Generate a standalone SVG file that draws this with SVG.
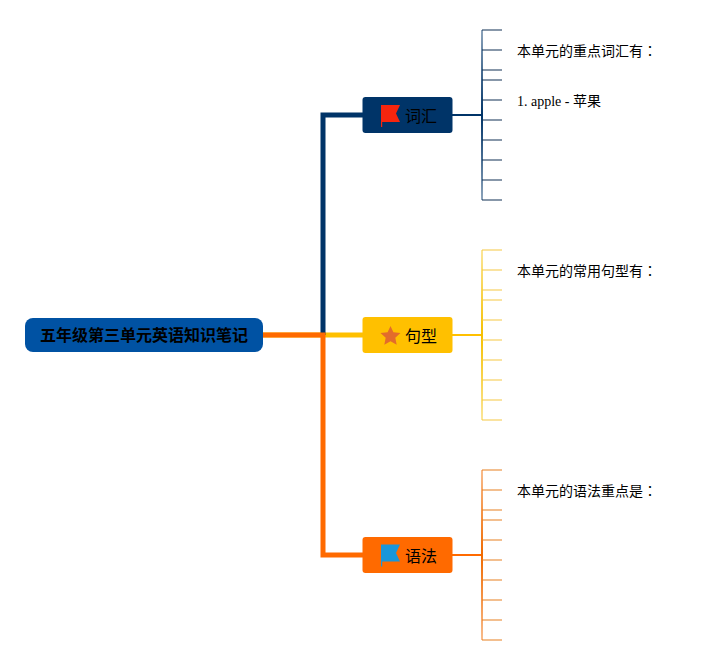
<svg xmlns="http://www.w3.org/2000/svg" width="717" height="665" viewBox="0 0 717 665">
<style>
text{font-family:"Liberation Serif","Noto Sans CJK SC",serif;fill:#000}
.t{font-size:14px}
.c{font-family:"Noto Sans CJK TC",sans-serif}
.b{font-size:16px;font-family:"Noto Sans CJK SC","Liberation Sans",sans-serif}
.r{font-size:16px;font-weight:bold;font-family:"Noto Sans CJK SC","Liberation Sans",sans-serif}
.m{fill:none;stroke-width:5}
.s{fill:none;stroke-width:2}
.k{fill:none;stroke-width:2;opacity:.5}
.bl{stroke:#003468}.yl{stroke:#ffc000}.or{stroke:#ff6a00}
.kb{stroke:#0f3054}.ky{stroke:#f5c842}.ko{stroke:#e8801f}
</style>
<defs>
<linearGradient id="g1" gradientUnits="userSpaceOnUse" x1="0" y1="30" x2="0" y2="200"><stop offset="0" stop-color="#003468" stop-opacity=".45"/><stop offset=".5" stop-color="#003468"/><stop offset="1" stop-color="#003468" stop-opacity=".45"/></linearGradient>
<linearGradient id="g2" gradientUnits="userSpaceOnUse" x1="0" y1="250" x2="0" y2="420"><stop offset="0" stop-color="#f5c000" stop-opacity=".4"/><stop offset=".5" stop-color="#f5c000"/><stop offset="1" stop-color="#f5c000" stop-opacity=".4"/></linearGradient>
<linearGradient id="g3" gradientUnits="userSpaceOnUse" x1="0" y1="470" x2="0" y2="640"><stop offset="0" stop-color="#f06a00" stop-opacity=".45"/><stop offset=".5" stop-color="#f06a00"/><stop offset="1" stop-color="#f06a00" stop-opacity=".45"/></linearGradient>
<path id="flag" d="M0 0H19L15 8.500L19 17H1.200V22H0Z"/>
</defs>
<g id="connectors">
<path class="m yl" d="M263 335H363"/>
<path class="m bl" d="M323 335V115H363"/>
<path class="m or" d="M263 335H323V555H363"/>
<path class="s bl" d="M452 115H482"/>
<path class="s yl" d="M452 335H482"/>
<path class="s or" d="M452 555H482"/>
<path d="M482 30V200" fill="none" stroke-width="2" stroke="url(#g1)"/>
<path d="M482 250V420" fill="none" stroke-width="2" stroke="url(#g2)"/>
<path d="M482 470V640" fill="none" stroke-width="2" stroke="url(#g3)"/>
<path class="k kb" d="M482 30H502M482 50H502M482 70H502M482 80H502M482 100H502M482 120H502M482 140H502M482 160H502M482 180H502M482 200H502"/>
<path class="k ky" d="M482 250H502M482 270H502M482 290H502M482 300H502M482 320H502M482 340H502M482 360H502M482 380H502M482 400H502M482 420H502"/>
<path class="k ko" d="M482 470H502M482 490H502M482 510H502M482 520H502M482 540H502M482 560H502M482 580H502M482 600H502M482 620H502M482 640H502"/>
</g>
<g id="root"><rect x="25" y="318" width="238" height="34" rx="8" fill="#0052a3"/><text class="r" x="144" y="341" text-anchor="middle">五年级第三单元英语知识笔记</text></g>
<g id="node-vocab"><rect x="362.500" y="97" width="90" height="36" rx="3" fill="#003468"/><use href="#flag" x="381" y="105" fill="#f6250e"/><text class="b" x="405" y="122">词汇</text></g>
<g id="node-sentence"><rect x="362.500" y="317" width="90" height="36" rx="3" fill="#ffc000"/><path d="M390.500 326L393.400 332.300L400.500 333.100L395.300 337.800L396.700 344.700L390.500 341.300L384.300 344.700L385.700 337.800L380.500 333.100L387.600 332.300Z" fill="#e36c2b"/><text class="b" x="405" y="342">句型</text></g>
<g id="node-grammar"><rect x="362.500" y="537" width="90" height="36" rx="3" fill="#ff6a00"/><use href="#flag" x="381" y="544.500" fill="#1a96d9"/><text class="b" x="405" y="562">语法</text></g>
<g id="leaf-1"><text class="t" x="517" y="56">本单元的重点词汇有<tspan class="c">：</tspan></text></g>
<g id="leaf-2"><text class="t" x="517" y="106">1. apple - 苹果</text></g>
<g id="leaf-3"><text class="t" x="517" y="276">本单元的常用句型有<tspan class="c">：</tspan></text></g>
<g id="leaf-4"><text class="t" x="517" y="496">本单元的语法重点是<tspan class="c">：</tspan></text></g>
</svg>
